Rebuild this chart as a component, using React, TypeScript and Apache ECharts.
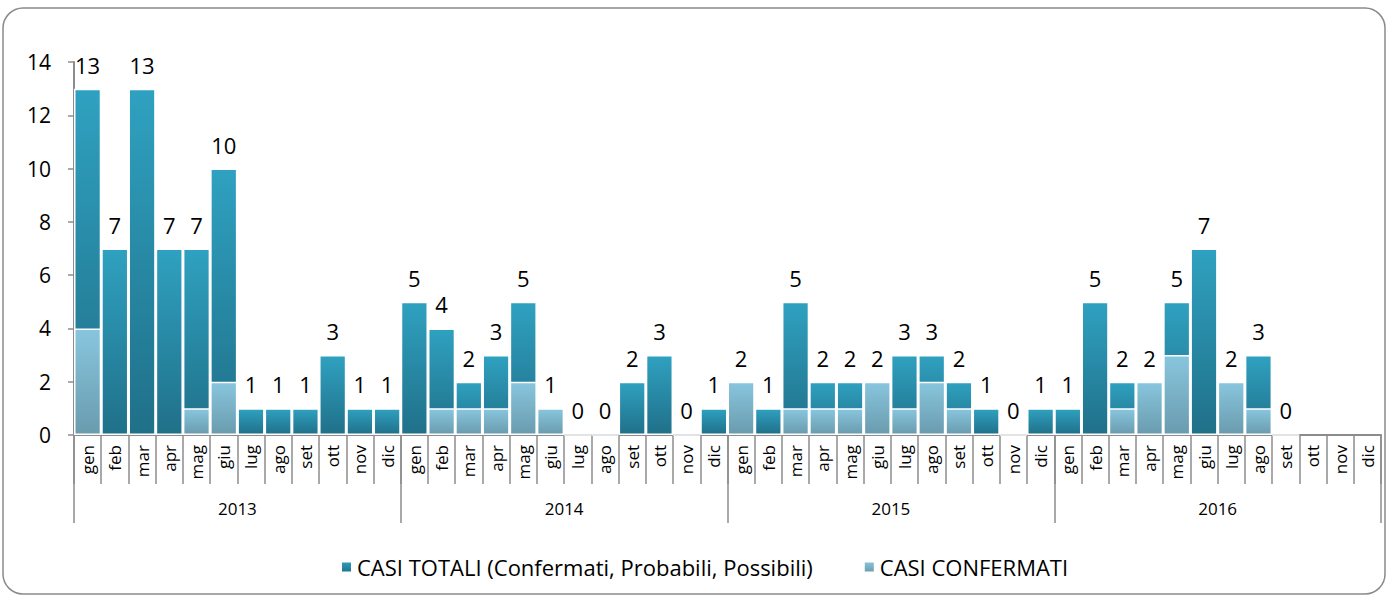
import React, { useEffect, useRef } from "react";
import * as echarts from "echarts";

const months = ["gen", "feb", "mar", "apr", "mag", "giu", "lug", "ago", "set", "ott", "nov", "dic"];
const years = ["2013", "2014", "2015", "2016"];

const totals2013 = [13, 7, 13, 7, 7, 10, 1, 1, 1, 3, 1, 1];
const totals2014 = [5, 4, 2, 3, 5, 1, 0, 0, 2, 3, 0, 1];
const totals2015 = [2, 1, 5, 2, 2, 2, 3, 3, 2, 1, 0, 1];
const totals2016: (number | null)[] = [1, 5, 2, 2, 5, 7, 2, 3, 0, null, null, null];

const confirmed2013 = [4, 0, 0, 0, 1, 2, 0, 0, 0, 0, 0, 0];
const confirmed2014 = [0, 1, 1, 1, 2, 1, 0, 0, 0, 0, 0, 0];
const confirmed2015 = [2, 0, 1, 1, 1, 2, 1, 2, 1, 0, 0, 0];
const confirmed2016: (number | null)[] = [0, 0, 1, 2, 3, 0, 2, 1, 0, null, null, null];

const yTicks = [0, 2, 4, 6, 8, 10, 12, 14];

const FONT = "'Open Sans', 'Noto Sans', sans-serif";

export default function App() {
  const ref = useRef<HTMLDivElement>(null);
  useEffect(() => {
    if (!ref.current) return;
    const chart = echarts.init(ref.current, undefined, { renderer: "svg" });
    const cats: string[] = [];
    years.forEach(() => months.forEach((m) => cats.push(m)));
    const totals = [...totals2013, ...totals2014, ...totals2015, ...totals2016].map((v) =>
      v === null ? "-" : v
    );
    const confirmed = [...confirmed2013, ...confirmed2014, ...confirmed2015, ...confirmed2016].map(
      (v) => (v === null || v === 0 ? "-" : v)
    );
    const totalColor = new echarts.graphic.LinearGradient(0, 0, 0, 1, [
      { offset: 0, color: "#2fa1c0" },
      { offset: 1, color: "#207089" },
    ]);
    const confColor = new echarts.graphic.LinearGradient(0, 0, 0, 1, [
      { offset: 0, color: "#88c6de" },
      { offset: 1, color: "#6a9bae" },
    ]);
    chart.setOption({
      animation: false,
      textStyle: { fontFamily: FONT },
      graphic: [
        {
          type: "rect",
          shape: { x: 3, y: 8, width: 1382, height: 586, r: 20 },
          style: { fill: "none", stroke: "#8a8a8a", lineWidth: 1.5 },
          silent: true,
        },
      ],
      grid: { left: 74, right: 7, top: 62, bottom: 162, containLabel: false },
      legend: {
        left: 335,
        top: 551,
        itemWidth: 11,
        itemHeight: 11,
        itemGap: 50,
        icon: "rect",
        textStyle: { fontSize: 22, color: "#000", fontFamily: FONT },
        data: ["CASI TOTALI (Confermati, Probabili, Possibili)", "CASI CONFERMATI"],
      },
      xAxis: [
        {
          type: "category",
          data: cats,
          position: "bottom",
          boundaryGap: true,
          axisLine: { show: true, lineStyle: { color: "#8c8c8c", width: 2 } },
          axisTick: { show: true, length: 49, interval: 0, lineStyle: { color: "#8c8c8c", width: 1.5 } },
          axisLabel: {
            interval: 0,
            rotate: 90,
            margin: 10,
            fontSize: 17,
            color: "#000",
            fontFamily: FONT,
          },
        },
        {
          type: "category",
          data: years,
          position: "bottom",
          boundaryGap: true,
          axisLine: { show: false },
          axisTick: { show: true, length: 88, interval: 0, lineStyle: { color: "#8c8c8c", width: 1.5 } },
          axisLabel: { interval: 0, margin: 65, fontSize: 17, color: "#000", fontFamily: FONT },
        },
      ],
      yAxis: {
        type: "value",
        min: yTicks[0],
        max: yTicks[yTicks.length - 1],
        interval: 2,
        axisLine: { show: true, lineStyle: { color: "#8c8c8c", width: 2 } },
        axisTick: { show: true, length: 6, lineStyle: { color: "#8c8c8c", width: 1.5 } },
        splitLine: { show: false },
        axisLabel: { fontSize: 21, color: "#000", margin: 23, fontFamily: FONT },
      },
      series: [
        {
          name: "CASI TOTALI (Confermati, Probabili, Possibili)",
          type: "bar",
          xAxisIndex: 0,
          data: totals,
          barCategoryGap: "0%",
          barGap: "-100%",
          itemStyle: { color: totalColor, borderColor: "#ffffff", borderWidth: 1.5 },
          label: {
            show: true,
            position: "top",
            distance: 13,
            fontSize: 22,
            color: "#000",
            fontFamily: FONT,
          },
        },
        {
          name: "CASI CONFERMATI",
          type: "bar",
          xAxisIndex: 0,
          data: confirmed,
          barCategoryGap: "0%",
          barGap: "-100%",
          itemStyle: { color: confColor, borderColor: "#ffffff", borderWidth: 1.5 },
        },
      ],
    });
    return () => chart.dispose();
  }, []);
  return (
    <div
      ref={ref}
      style={{ position: "absolute", left: 0, top: 0, width: 1388, height: 597, background: "#fff" }}
    />
  );
}
